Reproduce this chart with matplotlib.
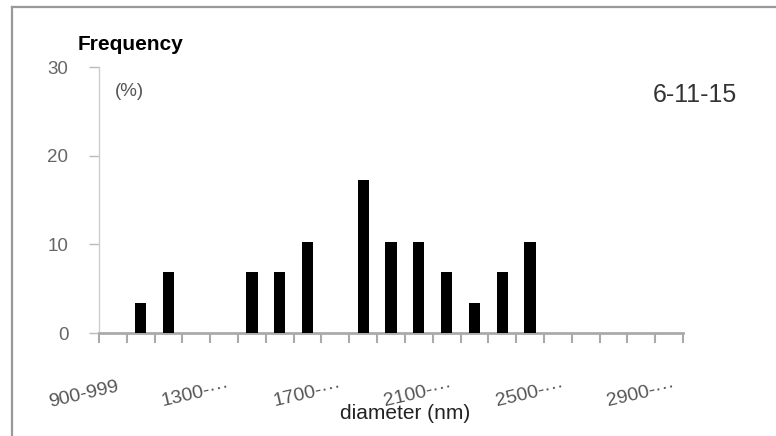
import matplotlib
matplotlib.use('Agg')
import matplotlib.pyplot as plt
import matplotlib.transforms as mtransforms
from matplotlib.lines import Line2D

plt.rcParams.update({
    'font.family': ['Liberation Sans', 'DejaVu Sans'],
    'font.size': 13,
})

# diameter bins (nm) and frequency (%)
categories = ['900-999', '1000-···', '1100-···', '1200-···', '1300-···', '1400-···',
              '1500-···', '1600-···', '1700-···', '1800-···', '1900-···', '2000-···',
              '2100-···', '2200-···', '2300-···', '2400-···', '2500-···', '2600-···',
              '2700-···', '2800-···', '2900-···']
frequency = [0, 3.4, 6.9, 0, 0, 6.9, 6.9, 10.3, 0, 17.2, 10.3, 10.3,
             6.9, 3.4, 6.9, 10.3, 0, 0, 0, 0, 0]
shown_labels = ['900-999', '1300-···', '1700-···', '2100-···', '2500-···', '2900-···']
y_ticks = [0, 10, 20, 30]

W, H = 776, 436
fig = plt.figure(figsize=(W / 100, H / 100), dpi=100)
ax = fig.add_axes([99 / W, 1 - 333 / H, (683 - 99) / W, (333 - 67) / H])

x = list(range(len(categories)))
ax.bar(x, frequency, width=0.4, color='black', zorder=3)

ax.set_xlim(-0.5, len(categories) - 0.5)
ax.set_ylim(0, 30)

# tick marks on the bin boundaries, no labels there
ax.set_xticks([i - 0.5 for i in range(len(categories) + 1)])
ax.set_xticklabels([])
ax.tick_params(axis='x', direction='out', length=7, width=1.5, color='#aaaaaa')
ax.set_yticks(y_ticks)
ax.set_yticklabels([str(v) for v in y_ticks], color='#666666', fontsize=13.5)
ax.tick_params(axis='y', direction='out', length=7, width=1, color='#bbbbbb', pad=15)

for s in ['top', 'right']:
    ax.spines[s].set_visible(False)
ax.spines['left'].set_color('#cccccc')
ax.spines['left'].set_linewidth(1)
ax.spines['bottom'].set_color('#aaaaaa')
ax.spines['bottom'].set_linewidth(2)

# rotated category labels, every 4th bin
trans = mtransforms.blended_transform_factory(ax.transData, ax.transAxes)
for lab in shown_labels:
    i = categories.index(lab)
    ax.text(i + 0.2, -0.2, lab, transform=trans, rotation=13, ha='right', va='center',
            rotation_mode='anchor', fontsize=14, color='#555555')

fig.text(340 / W, 1 - 413 / H, 'diameter (nm)', fontsize=15, color='#222222', va='center')
fig.text(78 / W, 1 - 45 / H, 'Frequency', fontsize=15, fontweight='bold', va='center')
fig.text(115 / W, 1 - 91 / H, '(%)', fontsize=13.5, color='#555555', va='center')
fig.text(653 / W, 1 - 95 / H, '6-11-15', fontsize=18, color='#333333', va='center')

# chart border (partly cropped)
fig.add_artist(Line2D([12 / W, 12 / W], [0, 1 - 7 / H], transform=fig.transFigure,
                      color='#999999', lw=1.6))
fig.add_artist(Line2D([12 / W, 1], [1 - 7 / H, 1 - 7 / H], transform=fig.transFigure,
                      color='#999999', lw=1.6))

plt.savefig('out.png', dpi=100)
plt.close()
